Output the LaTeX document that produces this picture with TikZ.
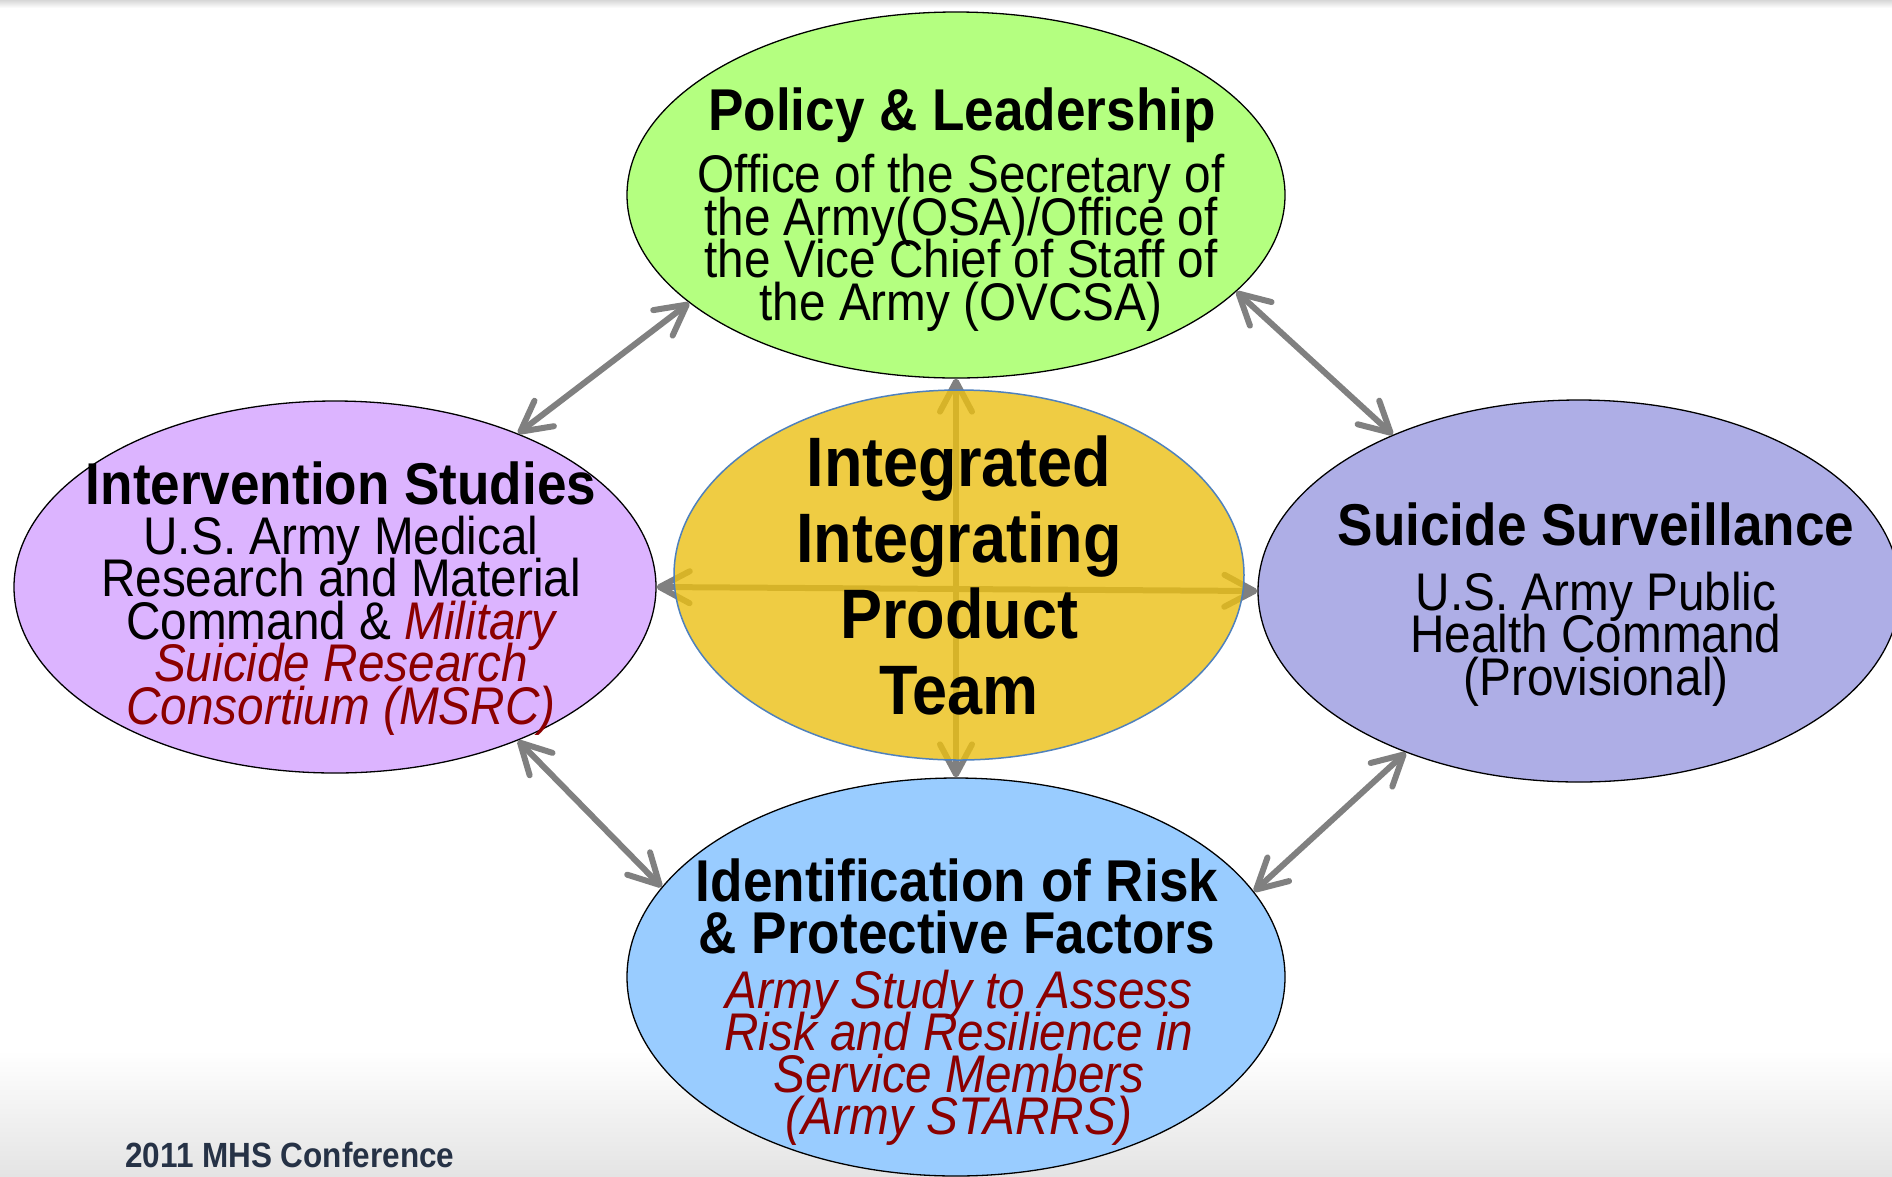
\documentclass[tikz,border=0pt]{standalone}
\usepackage{fontspec}
\setmainfont{Liberation Sans}[FakeStretch=0.9]
\usetikzlibrary{shapes.geometric,arrows.meta}
\definecolor{pgreen}{RGB}{180,255,128}
\definecolor{ppurple}{RGB}{220,180,255}
\definecolor{pviolet}{RGB}{174,174,230}
\definecolor{pblue}{RGB}{153,204,255}
\definecolor{pyellow}{RGB}{236,192,20}
\definecolor{pyborder}{RGB}{79,129,189}
\definecolor{dred}{RGB}{139,0,0}
\definecolor{arrowgray}{RGB}{128,128,128}
\definecolor{footc}{RGB}{38,50,70}
\newcommand\tightls{\lineskiplimit-1000pt\relax}
\begin{document}
\begin{tikzpicture}[x=1pt,y=-1pt,
  oval/.style={ellipse, draw=black, line width=1.3pt, inner sep=0pt},
  ttl/.style={font={\fontsize{59}{52}\selectfont\bfseries\tightls}, align=center, anchor=base, inner sep=0pt},
  bdy/.style={font={\fontsize{53}{42.5}\selectfont\tightls}, align=center, anchor=base, inner sep=0pt},
  bdyit/.style={bdy, font={\fontsize{53}{41.7}\selectfont\itshape\tightls}, text=dred},
  link/.style={draw=arrowgray, line width=6pt, line cap=round,
    {Straight Barb[length=30pt,width=32pt,round]}-{Straight Barb[length=30pt,width=32pt,round]}},
]
\useasboundingbox (0,0) rectangle (1892,1176);
\fill[white] (0,0) rectangle (1892,1176);
\shade[top color=white, bottom color={rgb,255:red,228;green,228;blue,228}] (0,1050) rectangle (1892,1176);
\shade[top color={rgb,255:red,215;green,215;blue,215}, bottom color=white] (0,0) rectangle (1892,8);

% outer ellipses
\node[oval, fill=pgreen, minimum width=658pt, minimum height=366pt] (policy) at (956,195) {};
\node[oval, fill=ppurple, minimum width=642pt, minimum height=372pt] (interv) at (335,587) {};
\node[oval, fill=pviolet, minimum width=642pt, minimum height=382pt] (surv) at (1579,591) {};
\node[oval, fill=pblue, minimum width=658pt, minimum height=398pt] (risk) at (956,977) {};

% cross arrows (under the centre ellipse)
\draw[link] (policy.south) -- (risk.north);
\draw[link] (interv.east) -- (surv.west);

% centre ellipse
\node[ellipse, fill=pyellow, fill opacity=0.8, draw=pyborder, draw opacity=1, line width=1.5pt,
  inner sep=0pt, minimum width=570pt, minimum height=370pt] (ipt) at (959,575) {};

% diagonal arrows
\draw[link] (policy.202) -- (interv.40);
\draw[link] (policy.341) -- (surv.140);
\draw[link] (interv.320) -- (risk.163);
\draw[link] (surv.223) -- (risk.16);

% texts
\node[ttl] (tpol) at (962,130) {Policy \& Leadership};
\node[bdy] (bpol) at (961,320) {Office of the Secretary of\\the Army(OSA)/Office of\\the Vice Chief of Staff of\\the Army (OVCSA)};

\node[font={\fontsize{70}{76}\selectfont\bfseries\tightls}, align=center, anchor=base, inner sep=0pt] (tipt) at (959,714) {Integrated\\Integrating\\Product\\Team};

\node[ttl] (tint) at (341,504) {Intervention Studies};
\node[bdy] (bint) at (341,724) {U.S. Army Medical\\Research and Material\\Command \& \textcolor{dred}{\itshape Military}\\\textcolor{dred}{\itshape Suicide Research}\\\textcolor{dred}{\itshape Consortium (MSRC)}};

\node[ttl] (tsur) at (1596,545) {Suicide Surveillance};
\node[bdy] (bsur) at (1596,695) {U.S. Army Public\\Health Command\\(Provisional)};

\node[ttl] (trisk) at (957,953) {Identification of Risk\\\& Protective Factors};
\node[bdyit] (brisk) at (959,1134) {Army Study to Assess\\Risk and Resilience in\\Service Members\\(Army STARRS)};

\node[anchor=base west, inner sep=0pt, font=\fontsize{35}{40}\selectfont\bfseries, text=footc] (foot) at (125,1167) {2011 MHS Conference};
\end{tikzpicture}
\end{document}
